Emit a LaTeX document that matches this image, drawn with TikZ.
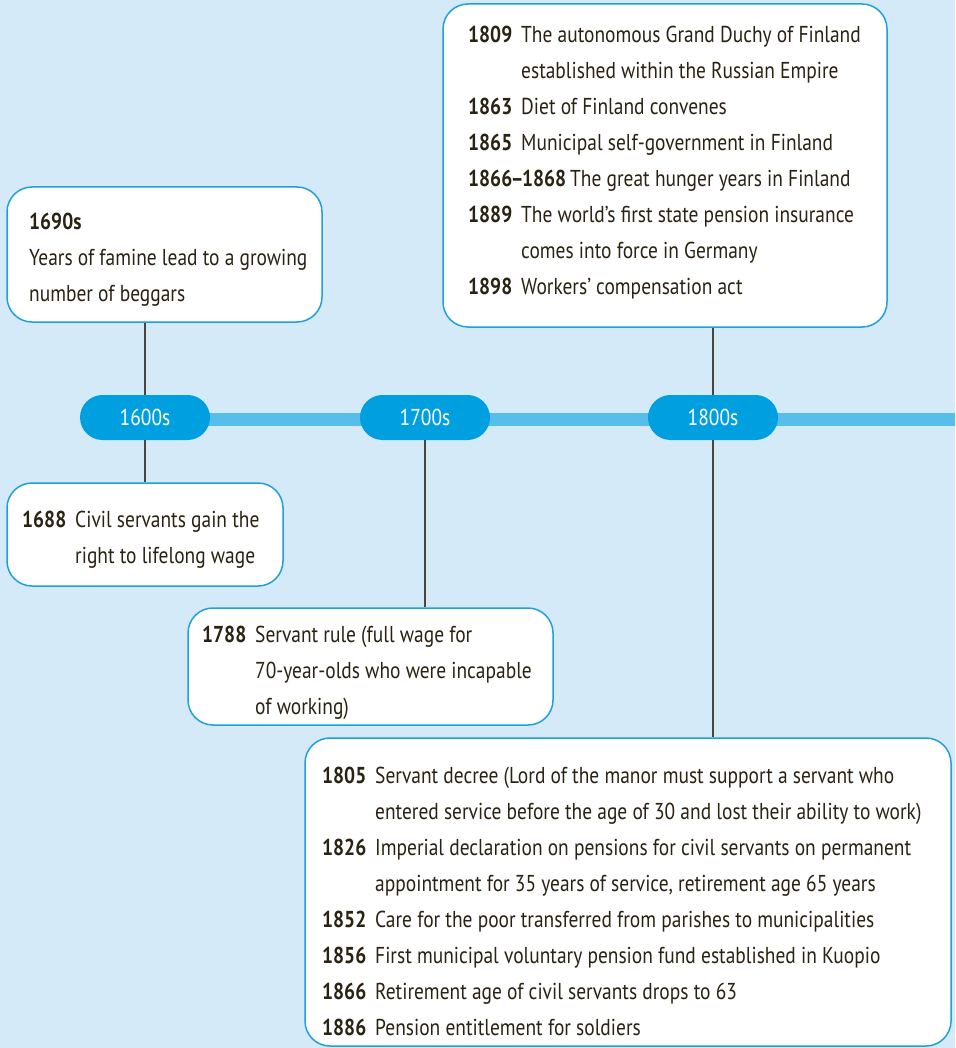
\documentclass[tikz,border=0pt]{standalone}
\usepackage{fontspec}
\setmainfont{PT Sans}[FakeStretch=0.845]
\definecolor{bgblue}{HTML}{D4EAF8}
\definecolor{barblue}{HTML}{56BEEA}
\definecolor{pillblue}{HTML}{009FE0}
\definecolor{edgeblue}{HTML}{1FA0DE}
\definecolor{ink}{HTML}{2A2212}
\definecolor{stem}{HTML}{4A463C}
\newcommand\yr[1]{\makebox[53pt][l]{\bfseries #1}}
\newcommand\cont[1]{\hbox{\hspace*{53pt}#1}}
\newcommand\stack[1]{\vtop{\baselineskip=36pt\lineskiplimit=-\maxdimen\lineskip=0pt #1}}
\tikzset{
  evbox/.style={draw=edgeblue, line width=1.5pt, fill=white, rounded corners=25pt, inner sep=0pt},
  pill/.style={fill=pillblue, rounded corners=22.5pt, minimum width=130pt, minimum height=45pt, inner sep=0pt, text=white, font=\fontsize{23}{26}\selectfont},
  txt/.style={anchor=base west, inner sep=0pt, text=ink, font=\fontsize{23}{36}\selectfont},
  conn/.style={draw=stem, line width=1.2pt},
}
\begin{document}
\begin{tikzpicture}[x=1pt, y=-1pt]
  \fill[bgblue] (0,0) rectangle (955,1048);
  \useasboundingbox (0,0) rectangle (955,1048);

  % timeline bar
  \coordinate (barstart) at (145,419.5);
  \coordinate (barend) at (955,419.5);
  \draw[barblue, line width=13pt] (barstart) -- (barend);

  % decade markers on the timeline
  \node[pill] (p1600) at (145,417.5) {1600s};
  \node[pill] (p1700) at (425,417.5) {1700s};
  \node[pill] (p1800) at (713,417.5) {1800s};

  % event boxes
  \node[evbox, minimum width=315pt, minimum height=135pt] (b1690) at (164.5,254.5) {};
  \node[evbox, minimum width=276pt, minimum height=103pt] (b1688) at (145,534.5) {};
  \node[evbox, minimum width=365pt, minimum height=117pt] (b1788) at (370.5,666.5) {};
  \node[evbox, minimum width=444pt, minimum height=323pt] (b1800a) at (665,165.5) {};
  \node[evbox, minimum width=646pt, minimum height=308pt] (b1800b) at (628,892) {};

  % stems from the decade markers to the boxes
  \draw[conn] (b1690.south -| p1600) -- (p1600.north);
  \draw[conn] (p1600.south) -- (b1688.north -| p1600);
  \draw[conn] (p1700.south) -- (b1788.north -| p1700);
  \draw[conn] (b1800a.south -| p1800) -- (p1800.north);
  \draw[conn] (p1800.south) -- (b1800b.north -| p1800);

  % texts
  \node[txt] (t1690) at (29,230) {\stack{%
    \hbox{\bfseries 1690s}%
    \hbox{Years of famine lead to a growing}%
    \hbox{number of beggars}}};
  \node[txt] (t1688) at (22,527) {\stack{%
    \hbox{\yr{1688}Civil servants gain the}%
    \cont{right to lifelong wage}}};
  \node[txt] (t1788) at (202,642) {\stack{%
    \hbox{\yr{1788}Servant rule (full wage for}%
    \cont{70-year-olds who were incapable}%
    \cont{of working)}}};
  \node[txt] (t1800a) at (468,43) {\stack{%
    \hbox{\yr{1809}The autonomous Grand Duchy of Finland}%
    \cont{established within the Russian Empire}%
    \hbox{\yr{1863}Diet of Finland convenes}%
    \hbox{\yr{1865}Municipal self-government in Finland}%
    \hbox{{\bfseries 1866\kern-1.5pt–\kern-1.5pt1868}\hspace{4pt}The great hunger years in Finland}%
    \hbox{\yr{1889}The world’s first state pension insurance}%
    \cont{comes into force in Germany}%
    \hbox{\yr{1898}Workers’ compensation act}}};
  \node[txt] (t1800b) at (322,783) {\stack{%
    \hbox{\yr{1805}Servant decree (Lord of the manor must support a servant who}%
    \cont{entered service before the age of 30 and lost their ability to work)}%
    \hbox{\yr{1826}Imperial declaration on pensions for civil servants on permanent}%
    \cont{appointment for 35 years of service, retirement age 65 years}%
    \hbox{\yr{1852}Care for the poor transferred from parishes to municipalities}%
    \hbox{\yr{1856}First municipal voluntary pension fund established in Kuopio}%
    \hbox{\yr{1866}Retirement age of civil servants drops to 63}%
    \hbox{\yr{1886}Pension entitlement for soldiers}}};
\end{tikzpicture}
\end{document}
